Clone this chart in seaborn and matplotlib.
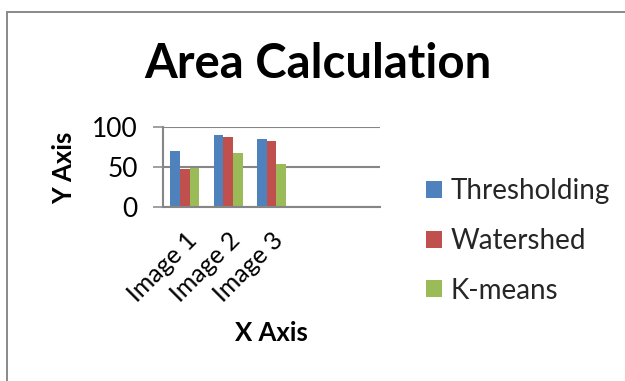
import matplotlib
matplotlib.use("Agg")
import matplotlib.pyplot as plt
import seaborn as sns
import pandas as pd
from matplotlib.lines import Line2D

# Chart data
categories = ["Image 1", "Image 2", "Image 3"]
methods = ["Thresholding", "Watershed", "K-means"]
thresholding = [70, 90, 85]
watershed = [47, 87, 82]
kmeans = [49, 68, 54]
y_ticks = [0, 50, 100]

colors = ["#4F81BD", "#C0504D", "#9BBB59"]
grid_gray = "#868686"

sns.set_theme(style="white")
plt.rcParams["font.family"] = ["Lato", "DejaVu Sans"]

df = pd.DataFrame({
    "Category": categories * 3,
    "Method": [m for m in methods for _ in categories],
    "Value": thresholding + watershed + kmeans,
})

W, H = 625, 381
fig = plt.figure(figsize=(W / 100, H / 100), dpi=100)
fig.patch.set_facecolor("white")

# Plot area in pixel terms
left, right, top, bottom = 163, 380, 127, 207
ax = fig.add_axes([left / W, 1 - bottom / H, (right - left) / W, (bottom - top) / H])

sns.barplot(data=df, x="Category", y="Value", hue="Method", order=categories,
            hue_order=methods, palette=colors, width=0.667, saturation=1,
            edgecolor="none", linewidth=0, ax=ax, legend=True)

# Category axis has room for five slots; only the first three hold data
ax.set_xlim(-0.5, 4.5)
ax.set_ylim(0, 100)
ax.set_yticks(y_ticks)
ax.yaxis.grid(True, color=grid_gray, linewidth=1.5)
ax.set_axisbelow(True)

for side in ["top", "right"]:
    ax.spines[side].set_visible(False)
for side in ["left", "bottom"]:
    ax.spines[side].set_color(grid_gray)
    ax.spines[side].set_linewidth(1.5)

ax.tick_params(axis="y", length=7.2, width=1.1, color=grid_gray, labelsize=19,
               pad=11, labelcolor="#000000", left=True)
ax.tick_params(axis="x", length=0, labelsize=18, pad=15, labelcolor="#000000")
ax.set_xticks(range(len(categories)))
ax.set_xticklabels(categories, rotation=45, ha="right", rotation_mode="anchor")

ax.set_xlabel("X Axis", fontsize=18.5, fontweight="bold", color="black")
ax.set_ylabel("Y Axis", fontsize=18.5, fontweight="bold", color="black")
ax.xaxis.set_label_coords(0.5, -1.42)
ax.yaxis.set_label_coords(-0.40, 0.49)

# Legend to the right of the plot area
handles, labels = ax.get_legend_handles_labels()
ax.legend(handles, labels, loc="center left",
          bbox_to_anchor=(426 / W, 1 - 241 / H), bbox_transform=fig.transFigure,
          frameon=False, fontsize=20, handlelength=0.56, handleheight=0.56,
          handletextpad=0.33, labelspacing=0.85, borderaxespad=0, borderpad=0)

# Title
fig.text(318 / W, 1 - 78 / H, "Area Calculation", ha="center", va="baseline",
         fontsize=34, fontweight="bold", color="black")

# Chart frame
frame_kw = dict(color="#898989", linewidth=1.4, transform=fig.transFigure)
fig.add_artist(Line2D([7 / W, 7 / W], [0, 1 - 12 / H], **frame_kw))
fig.add_artist(Line2D([7 / W, 1], [1 - 12 / H, 1 - 12 / H], **frame_kw))

fig.savefig("out.png", dpi=100)
